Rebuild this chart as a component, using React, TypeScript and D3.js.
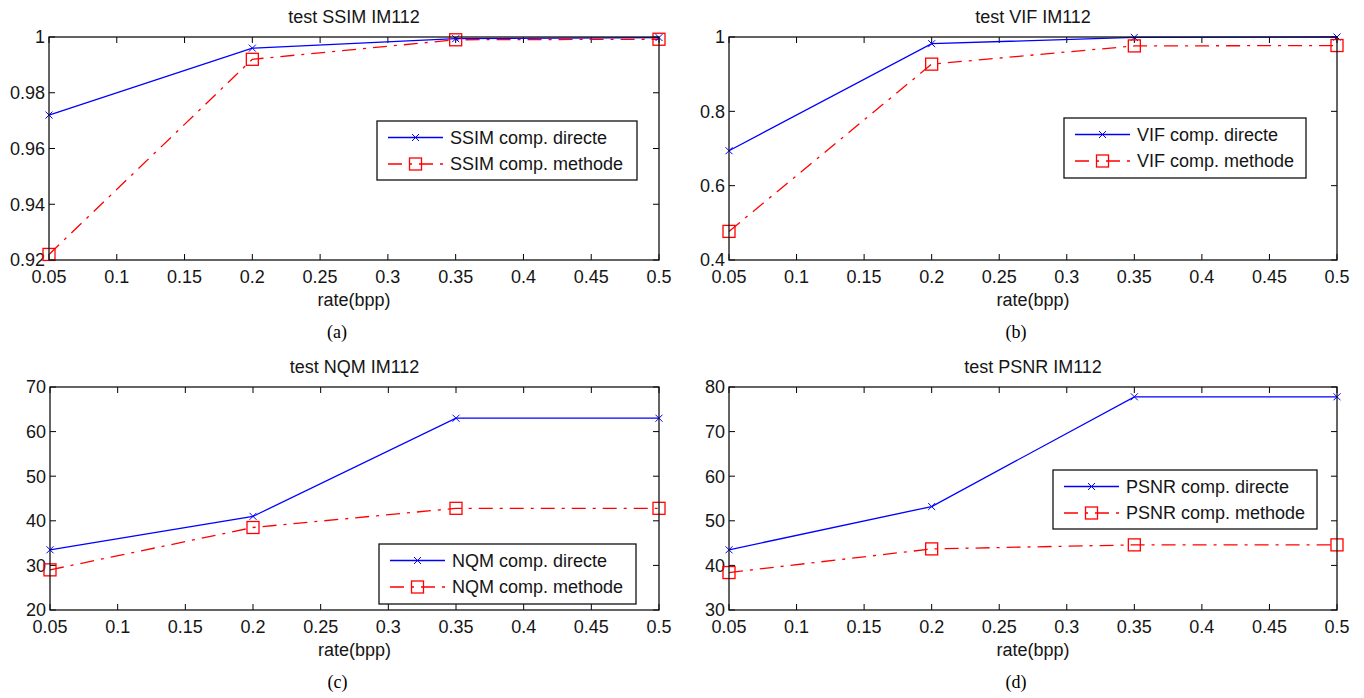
import React from "react";
import * as d3 from "d3";

// ---------------- DATA ----------------
const rates = [0.05, 0.2, 0.35, 0.5];
const xTickValues = [0.05, 0.1, 0.15, 0.2, 0.25, 0.3, 0.35, 0.4, 0.45, 0.5];

const ssimDirecte = [0.972, 0.996, 0.9994, 0.9998];
const ssimMethode = [0.922, 0.992, 0.999, 0.9992];
const ssimTicks = [0.92, 0.94, 0.96, 0.98, 1];

const vifDirecte = [0.694, 0.982, 0.999, 1.0];
const vifMethode = [0.477, 0.927, 0.976, 0.977];
const vifTicks = [0.4, 0.6, 0.8, 1];

const nqmDirecte = [33.5, 41, 63, 63];
const nqmMethode = [29, 38.5, 42.8, 42.8];
const nqmTicks = [20, 30, 40, 50, 60, 70];

const psnrDirecte = [43.5, 53.2, 77.8, 77.8];
const psnrMethode = [38.4, 43.7, 44.6, 44.6];
const psnrTicks = [30, 40, 50, 60, 70, 80];

const metricNames = ["SSIM", "VIF", "NQM", "PSNR"];
const captions = ["(a)", "(b)", "(c)", "(d)"];
const xLabel = "rate(bpp)";

// ---------------- LAYOUT ----------------
const FONT = "'Liberation Sans', Arial, sans-serif";
const SERIF = "'Liberation Serif', 'Times New Roman', serif";
const TEXT = "#151515";

const panels = [
  { directe: ssimDirecte, methode: ssimMethode, ticks: ssimTicks, x0: 49, x1: 659, y0: 37, y1: 260, leg: { x: 377, y: 121, w: 260, h: 59 } },
  { directe: vifDirecte, methode: vifMethode, ticks: vifTicks, x0: 729, x1: 1337, y0: 37, y1: 260, leg: { x: 1064, y: 118, w: 242, h: 60 } },
  { directe: nqmDirecte, methode: nqmMethode, ticks: nqmTicks, x0: 50, x1: 659, y0: 387, y1: 610, leg: { x: 379, y: 544, w: 257, h: 60 } },
  { directe: psnrDirecte, methode: psnrMethode, ticks: psnrTicks, x0: 729, x1: 1337, y0: 387, y1: 610, leg: { x: 1053, y: 470, w: 264, h: 59 } },
];

const fmt = (v: number) => String(+v.toFixed(2));

function Panel({ p, i }: { p: any; i: number }) {
  const x = d3.scaleLinear().domain([0.05, 0.5]).range([p.x0, p.x1]);
  const y = d3
    .scaleLinear()
    .domain([p.ticks[0], p.ticks[p.ticks.length - 1]])
    .range([p.y1, p.y0]);
  const line = d3
    .line<number>()
    .x((_, k) => x(rates[k]))
    .y((d) => y(d));
  const tl = 6;
  const name = metricNames[i];
  const cx = (p.x0 + p.x1) / 2;
  const L = p.leg;
  const r1 = L.y + 16.5;
  const r2 = L.y + 43;
  const lx0 = L.x + 11;
  const lx1 = L.x + 66;
  const lm = (lx0 + lx1) / 2;
  const dash = "14,7,3,7";
  const xMark = (px: number, py: number, key: any) => (
    <path
      key={key}
      d={`M${px - 3.5},${py - 3.5}L${px + 3.5},${py + 3.5}M${px - 3.5},${py + 3.5}L${px + 3.5},${py - 3.5}`}
      stroke="#0000ff"
      strokeWidth={1}
      fill="none"
    />
  );
  const sq = (px: number, py: number, key: any) => (
    <rect key={key} x={px - 6} y={py - 6} width={12} height={12} fill="none" stroke="#ff0000" strokeWidth={1.3} />
  );
  return (
    <g>
      <rect x={p.x0} y={p.y0} width={p.x1 - p.x0} height={p.y1 - p.y0} fill="#fff" />
      {xTickValues.map((t) => (
        <g key={"xt" + t}>
          <line x1={x(t)} x2={x(t)} y1={p.y1} y2={p.y1 - tl} stroke="#000" strokeWidth={1} />
          <line x1={x(t)} x2={x(t)} y1={p.y0} y2={p.y0 + tl} stroke="#000" strokeWidth={1} />
          <text x={x(t)} y={p.y1 + 23} textAnchor="middle" fontFamily={FONT} fontSize={18} fill={TEXT}>
            {fmt(t)}
          </text>
        </g>
      ))}
      {p.ticks.map((t: number) => (
        <g key={"yt" + t}>
          <line x1={p.x0} x2={p.x0 + tl} y1={y(t)} y2={y(t)} stroke="#000" strokeWidth={1} />
          <line x1={p.x1} x2={p.x1 - tl} y1={y(t)} y2={y(t)} stroke="#000" strokeWidth={1} />
          <text x={p.x0 - 4} y={y(t)} dy="0.36em" textAnchor="end" fontFamily={FONT} fontSize={18} fill={TEXT}>
            {fmt(t)}
          </text>
        </g>
      ))}
      <path d={line(p.directe) || ""} fill="none" stroke="#0000ff" strokeWidth={1.3} />
      <path d={line(p.methode) || ""} fill="none" stroke="#ff0000" strokeWidth={1.3} strokeDasharray={dash} />
      {p.directe.map((v: number, k: number) => xMark(x(rates[k]), y(v), "xm" + k))}
      {p.methode.map((v: number, k: number) => sq(x(rates[k]), y(v), "sq" + k))}
      <rect x={p.x0} y={p.y0} width={p.x1 - p.x0} height={p.y1 - p.y0} fill="none" stroke="#111" strokeWidth={1.3} />
      <text x={cx} y={p.y0 - 14.5} textAnchor="middle" fontFamily={FONT} fontSize={18} fill={TEXT}>
        {`test ${name} IM112`}
      </text>
      <text x={cx} y={p.y1 + 46} textAnchor="middle" fontFamily={FONT} fontSize={18} fill={TEXT}>
        {xLabel}
      </text>
      <text x={cx - 17} y={p.y1 + 78} textAnchor="middle" fontFamily={SERIF} fontSize={18} fill="#000">
        {captions[i]}
      </text>
      <rect x={L.x} y={L.y} width={L.w} height={L.h} fill="#fff" stroke="#111" strokeWidth={1.3} />
      <line x1={lx0} x2={lx1} y1={r1} y2={r1} stroke="#0000ff" strokeWidth={1.3} />
      {xMark(lm, r1, "lx")}
      <text x={L.x + 73} y={r1} dy="0.36em" fontFamily={FONT} fontSize={18} fill={TEXT}>
        {`${name} comp. directe`}
      </text>
      <line x1={lx0} x2={lx1} y1={r2} y2={r2} stroke="#ff0000" strokeWidth={1.3} strokeDasharray={dash} />
      {sq(lm, r2, "ls")}
      <text x={L.x + 73} y={r2} dy="0.36em" fontFamily={FONT} fontSize={18} fill={TEXT}>
        {`${name} comp. methode`}
      </text>
    </g>
  );
}

export default function App() {
  return (
    <svg
      width={1364}
      height={698}
      style={{ position: "absolute", left: 0, top: 0, background: "#fff" }}
    >
      <rect width={1364} height={698} fill="#fff" />
      {panels.map((p, i) => (
        <Panel key={i} p={p} i={i} />
      ))}
    </svg>
  );
}
